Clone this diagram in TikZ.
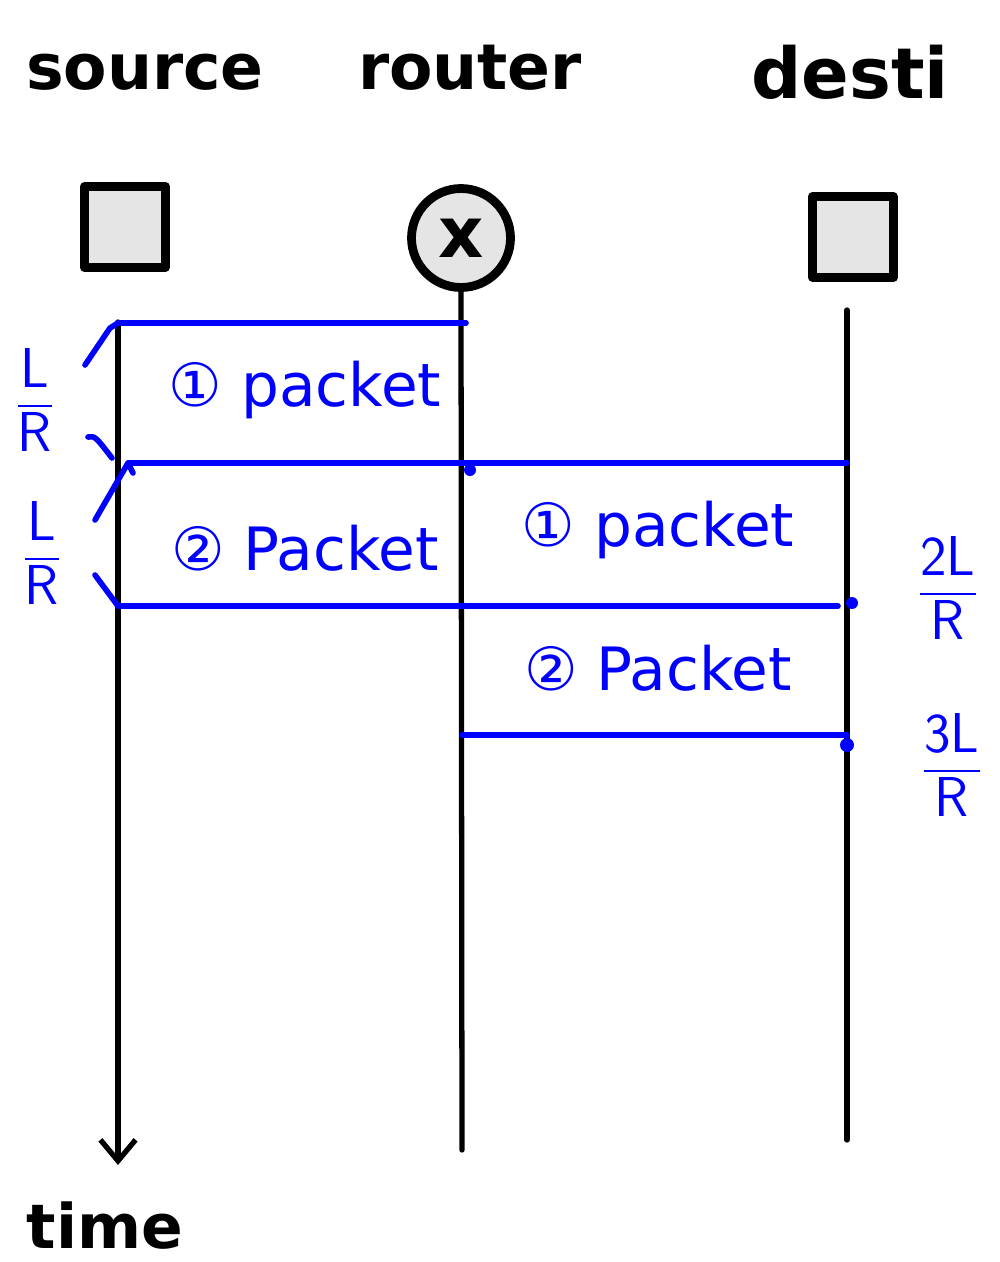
\documentclass[tikz,border=0pt]{standalone}
\usepackage{amsmath}
\usepackage{fontspec}
\setmainfont{DejaVu Sans}
\usetikzlibrary{arrows.meta}
\begin{document}
\begin{tikzpicture}[x=0.02cm,y=-0.02cm,line join=round,line cap=round,
	hand/.style={line width=3pt},
	blue line/.style={draw=blue,line width=3.2pt},
	title/.style={font=\fontsize{36}{40}\selectfont\bfseries},
	lbl/.style={text=blue,font=\fontsize{34}{38}\selectfont},
	frac/.style={text=blue,font=\fontsize{32}{36}\selectfont},
	host/.style={draw,fill=gray!20,line width=5pt,minimum size=1.62cm,inner sep=0pt}]
	\useasboundingbox (0,0) rectangle (1000,1262);
	% titles
	\node[title] (tsrc) at (145,72) {source};
	\node[title] (trtr) at (470,68) {router};
	\node[title,font=\fontsize{40}{44}\selectfont\bfseries] (tdst) at (850,72) {desti};
	% hosts
	\node[host] (src) at (125,227) {};
	\node[host,circle,minimum size=1.98cm,font=\fontsize{40}{40}\selectfont\bfseries] (rtr) at (461,238) {x};
	\node[host] (dst) at (853,237) {};
	\path (118,322) coordinate (S0)
		(118,1165) coordinate (S1)
		(462,1150) coordinate (R1)
		(847,310) coordinate (D0)
		(847,1140) coordinate (D1);
	\draw[hand,-{Straight Barb[length=12pt,width=20pt,line width=3pt]}] (S0) -- (S1);
	\draw[hand] (rtr.south) -- (R1);
	\draw[hand] (D0) -- (D1);
	% transmissions
	\path (118,323) coordinate (a1) (466,323) coordinate (a2)
		(128,463) coordinate (b1) (847,463) coordinate (b2)
		(118,606) coordinate (c1) (838,606) coordinate (c2)
		(462,735) coordinate (d1) (847,735) coordinate (d2);
	\draw[blue line] (a1) -- (a2);
	\draw[blue line] (b1) -- (b2);
	\draw[blue line] (c1) -- (c2);
	\draw[blue line] (d1) -- (d2);
	\fill[blue] (470,470) circle (6);
	\fill[blue] (852,603) circle (6);
	\fill[blue] (847,745) circle (7);
	% brackets
	\draw[blue line] (85,365) -- (110,328) -- (a1);
	\draw[blue line] (88,437) .. controls (95,436) .. (112,458);
	\draw[blue line] (95,520) -- (b1) -- (133,473);
	\draw[blue line] (95,575) -- (c1);
	\node[frac] (f1) at (35,400) {$\dfrac{\mathsf{L}}{\mathsf{R}}$};
	\node[frac] (f2) at (42,553) {$\dfrac{\mathsf{L}}{\mathsf{R}}$};
	\node[frac] (f3) at (948,588) {$\dfrac{\mathsf{2L}}{\mathsf{R}}$};
	\node[frac] (f4) at (952,765) {$\dfrac{\mathsf{3L}}{\mathsf{R}}$};
	% packets
	\node[lbl] (p1) at (305,390) {① packet};
	\node[lbl] (p2) at (305,548) {② Packet};
	\node[lbl] (p3) at (658,530) {① packet};
	\node[lbl] (p4) at (658,668) {② Packet};
	\node[title,font=\fontsize{35}{40}\selectfont\bfseries] (time) at (105,1226) {time};
\end{tikzpicture}
\end{document}
